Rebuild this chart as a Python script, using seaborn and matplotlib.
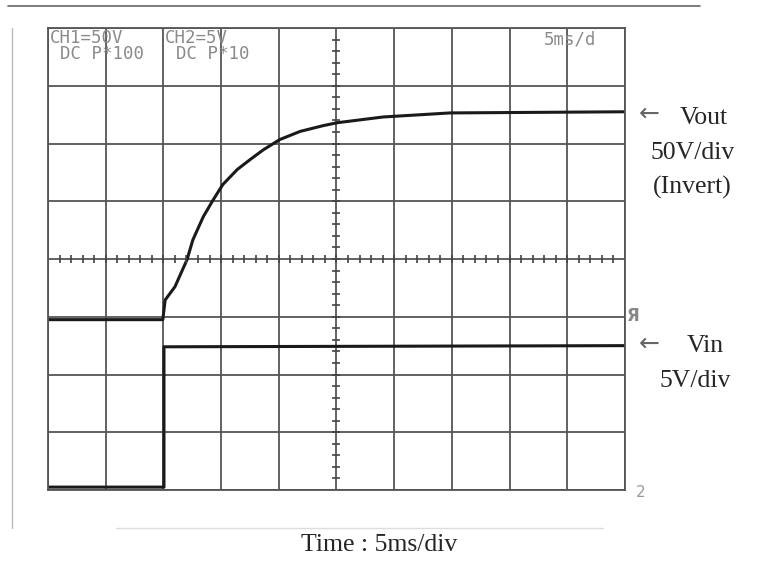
import numpy as np
import pandas as pd
import matplotlib
matplotlib.use("Agg")
import matplotlib.pyplot as plt
import seaborn as sns
from matplotlib.lines import Line2D

# screen data: time in ms (5 ms/div), trace height in divisions (8 divs tall)
vout_t = [0, 9.95, 10.15, 11.0, 12.05, 12.55, 13.45, 14.3, 15.15, 16.4, 17.5, 18.65,
          20.1, 21.85, 23.85, 25.05, 29.05, 34.85, 50.0]
vout_div = [2.95, 2.95, 3.29, 3.52, 3.99, 4.33, 4.73, 5.02, 5.29, 5.55, 5.72, 5.89,
            6.07, 6.21, 6.31, 6.36, 6.46, 6.53, 6.55]
vin_t = [0, 10.05, 10.05, 50.0]
vin_div = [0.05, 0.05, 2.48, 2.50]

sns.set_theme(style="white")
plt.rcParams['font.family'] = ['Liberation Serif', 'DejaVu Serif']

fig = plt.figure(figsize=(7.73, 5.62), dpi=100)
ax = fig.add_axes([0.0621, 0.1281, 0.7464, 0.822])

df_out = pd.DataFrame({'t': np.array(vout_t) / 5, 'v': vout_div})
df_in = pd.DataFrame({'t': np.array(vin_t) / 5, 'v': vin_div})
sns.lineplot(data=df_out, x='t', y='v', ax=ax, color='#1a1a1a', lw=2.2, sort=False, estimator=None)
sns.lineplot(data=df_in, x='t', y='v', ax=ax, color='#1a1a1a', lw=2.2, sort=False, estimator=None)

ax.set_xlim(0, 10)
ax.set_ylim(0, 8)
ax.set_xticks(range(11))
ax.set_yticks(range(9))
ax.grid(True, color='#555555', lw=1.3)
ax.tick_params(left=False, bottom=False, labelleft=False, labelbottom=False)
ax.set_xlabel('')
ax.set_ylabel('')
for s in ax.spines.values():
    s.set_color('#555555')
    s.set_linewidth(1.3)

# centre graticule ticks
minor = np.arange(0.2, 10, 0.2)
ax.plot(minor, [4] * len(minor), ls='none', marker='|', ms=6, color='#444444', mew=1.2)
minor_y = np.arange(0.2, 8, 0.2)
ax.plot([5] * len(minor_y), minor_y, ls='none', marker='_', ms=6, color='#444444', mew=1.2)

# scope header
mono = dict(family='DejaVu Sans Mono', color='#8a8a8a', fontsize=12.5)
ax.text(0.03, 7.99, 'CH1=50V', va='top', **mono)
ax.text(0.2, 7.7, 'DC P*100', va='top', **mono)
ax.text(2.03, 7.99, 'CH2=5V', va='top', **mono)
ax.text(2.22, 7.7, 'DC P*10', va='top', **mono)
ax.text(8.6, 7.95, '5ms/d', va='top', **mono)

# right margin marks
fig.text(0.811, 0.428, 'Я', color='#888888', fontsize=12, family='DejaVu Sans', weight='bold')
fig.text(0.822, 0.115, '2', color='#999999', fontsize=11, family='DejaVu Sans')
fig.text(0.826, 0.797, '\u2190', color='#666666', fontsize=18, family='DejaVu Sans', va='center')
fig.text(0.826, 0.388, '\u2190', color='#666666', fontsize=18, family='DejaVu Sans', va='center')

lab = dict(ha='center', va='center', fontsize=18.5)
fig.text(0.910, 0.79, 'Vout', **lab)
fig.text(0.896, 0.727, '50V/div', **lab)
fig.text(0.896, 0.667, '(Invert)', **lab)
fig.text(0.913, 0.385, 'Vin', **lab)
fig.text(0.899, 0.322, '5V/div', **lab)
fig.text(0.49, 0.03, 'Time : 5ms/div', **lab)

# page edges from the scan
fig.add_artist(Line2D([0.01, 0.905], [0.99, 0.99], color='#666666', lw=1.2))
fig.add_artist(Line2D([0.016, 0.016], [0.06, 0.95], color='#bbbbbb', lw=1))
fig.add_artist(Line2D([0.15, 0.78], [0.06, 0.06], color='#dddddd', lw=1))

fig.savefig('out.png', dpi=100)
